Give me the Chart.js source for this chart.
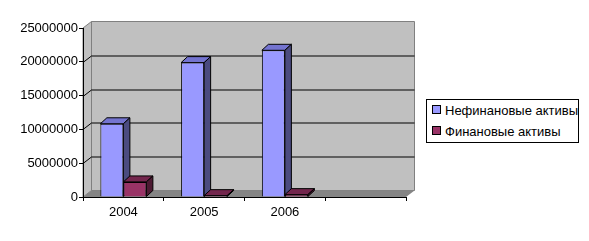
<!DOCTYPE html>
<html><head><meta charset="utf-8">
<script src="https://cdn.jsdelivr.net/npm/chart.js@4"></script>
<style>
html,body{margin:0;padding:0;background:#fff;}
#wrap{position:relative;width:589px;height:241px;}
#legend{position:absolute;left:426px;top:99px;width:151px;height:42px;border:1px solid #000;background:#fff;font:13px "Liberation Sans",Arial,sans-serif;color:#000;box-sizing:content-box;}
.item{position:absolute;left:5px;height:14px;line-height:14px;white-space:nowrap;}
.sw{display:inline-block;width:7px;height:7px;border:1px solid #000;margin-right:4px;vertical-align:1px;}
</style></head>
<body><div id="wrap"><canvas id="c" width="589" height="241"></canvas><div id="legend"></div></div>
<script>
const categories = ['2004','2005','2006',''];
const seriesNames = ['Нефинановые активы','Финановые активы'];
const nonFinancial = [10830000, 19880000, 21700000, null];
const financial = [2230000, 200000, 350000, null];
const yTicks = [0, 5000000, 10000000, 15000000, 20000000, 25000000];

const frontColors = ['#9999FF','#993366'];
const topColors = ['#7474D0','#73264D'];
const sideColors = ['#4B4B80','#4D1A33'];

const WDX = 8.5, WDY = -6.5; // wall depth
const BDX = 6.5, BDY = -6;   // bar depth

const threeD = {
  id: 'threeD',
  beforeDraw(chart) {
    const ctx = chart.ctx, a = chart.chartArea, y = chart.scales.y;
    const L = a.left, R = a.right, T = a.top, B = a.bottom;
    ctx.save();
    ctx.fillStyle = '#C0C0C0'; ctx.strokeStyle = '#808080'; ctx.lineWidth = 1;
    ctx.beginPath();
    ctx.moveTo(L, T); ctx.lineTo(L+WDX, T+WDY); ctx.lineTo(L+WDX, B+WDY); ctx.lineTo(L, B); ctx.closePath();
    ctx.fill(); ctx.stroke();
    ctx.beginPath();
    ctx.rect(L+WDX, T+WDY, R-L, B-T);
    ctx.fill(); ctx.stroke();
    ctx.fillStyle = '#858585';
    ctx.beginPath();
    ctx.moveTo(L, B); ctx.lineTo(L+WDX, B+WDY); ctx.lineTo(R+WDX, B+WDY); ctx.lineTo(R, B); ctx.closePath();
    ctx.fill();
    ctx.strokeStyle = '#000';
    yTicks.forEach(v => {
      if (v <= 0 || v >= 25000000) return;
      const py = Math.round(y.getPixelForValue(v)) + 0.5;
      ctx.beginPath();
      ctx.moveTo(L, py); ctx.lineTo(L+WDX, py+WDY); ctx.lineTo(R+WDX, py+WDY);
      ctx.stroke();
    });
    ctx.restore();
  },
  beforeDatasetsDraw(chart) {
    const ctx = chart.ctx;
    const n = chart.data.labels.length;
    ctx.save();
    ctx.strokeStyle = '#000'; ctx.lineWidth = 1;
    for (let i = 0; i < n; i++) {
      chart.data.datasets.forEach((ds, di) => {
        const el = chart.getDatasetMeta(di).data[i];
        if (!el || ds.data[i] == null) return;
        const p = el.getProps(['x','y','base','width'], true);
        const l = p.x - p.width/2, r = p.x + p.width/2, t = p.y, b = p.base;
        ctx.fillStyle = topColors[di];
        ctx.beginPath();
        ctx.moveTo(l, t); ctx.lineTo(l+BDX, t+BDY); ctx.lineTo(r+BDX, t+BDY); ctx.lineTo(r, t); ctx.closePath();
        ctx.fill(); ctx.stroke();
        ctx.fillStyle = sideColors[di];
        ctx.beginPath();
        ctx.moveTo(r, t); ctx.lineTo(r+BDX, t+BDY); ctx.lineTo(r+BDX, b+BDY); ctx.lineTo(r, b); ctx.closePath();
        ctx.fill(); ctx.stroke();
      });
    }
    ctx.restore();
  }
};

const font = {family: '"Liberation Sans", Arial, sans-serif', size: 13};

new Chart(document.getElementById('c'), {
  type: 'bar',
  data: {
    labels: categories,
    datasets: [
      {label: seriesNames[0], data: nonFinancial, backgroundColor: frontColors[0], borderColor: '#000', borderWidth: 1},
      {label: seriesNames[1], data: financial, backgroundColor: frontColors[1], borderColor: '#000', borderWidth: 1}
    ]
  },
  options: {
    responsive: false,
    animation: false,
    devicePixelRatio: 1,
    layout: {padding: {top: 28, right: 183, left: 0, bottom: 0}},
    plugins: {legend: {display: false}, tooltip: {enabled: false}},
    datasets: {bar: {categoryPercentage: 0.57, barPercentage: 1}},
    scales: {
      x: {
        grid: {display: true, drawOnChartArea: false, drawTicks: true, tickLength: 4, color: '#000', offset: true},
        border: {display: true, color: '#000'},
        ticks: {font: font, color: '#000', padding: 4, maxRotation: 0},
        afterFit(s) { s.height = 44; }
      },
      y: {
        min: 0, max: 25000000,
        afterBuildTicks(s) { s.ticks = yTicks.map(v => ({value: v})); },
        grid: {display: true, drawOnChartArea: false, drawTicks: true, tickLength: 4, color: '#000'},
        border: {display: true, color: '#000'},
        ticks: {font: font, color: '#000', padding: 1, callback: v => String(v)},
        afterFit(s) { s.width = 83; }
      }
    }
  },
  plugins: [threeD]
});

const lg = document.getElementById('legend');
seriesNames.forEach((name, i) => {
  const d = document.createElement('div');
  d.className = 'item';
  d.style.top = (i === 0 ? 4 : 25) + 'px';
  const sw = document.createElement('span');
  sw.className = 'sw'; sw.style.background = frontColors[i];
  d.appendChild(sw);
  d.appendChild(document.createTextNode(name));
  lg.appendChild(d);
});
</script></body></html>
